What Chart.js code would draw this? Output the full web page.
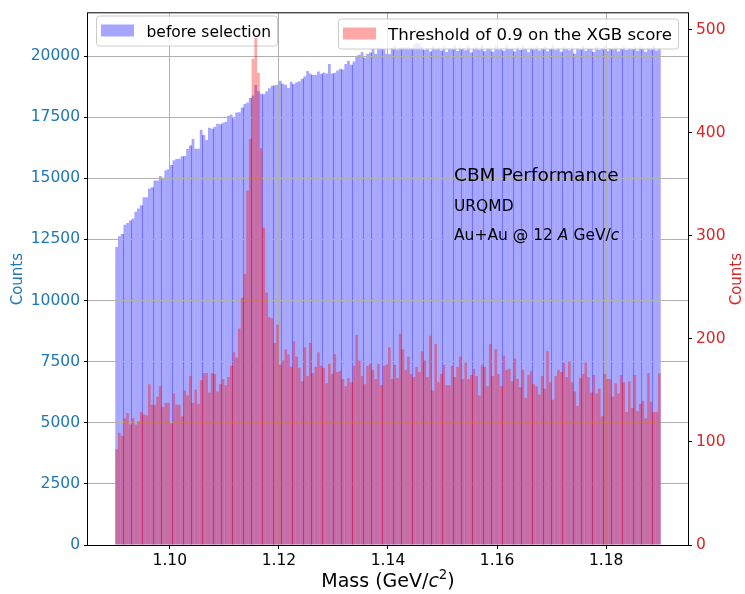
<!DOCTYPE html>
<html>
<head>
<meta charset="utf-8">
<script src="https://cdn.jsdelivr.net/npm/chart.js@4.4.1/dist/chart.umd.min.js"></script>
<style>
  html, body { margin: 0; padding: 0; background: #fff; }
  #massChart { display: block; }
</style>
</head>
<body>
<canvas id="massChart" width="745" height="594"></canvas>
<script>
// Lambda candidate mass histograms, 200 bins between 1.09 and 1.19 GeV/c^2
const massMin = 1.09;
const binWidth = 0.0005;

// counts before the selection (left axis)
const beforeCounts = [
    12191, 12626, 12720, 13102, 13170, 13277, 13360, 13632, 13767, 13902,
    14228, 14228, 14581, 14634, 14907, 14907, 15097, 15028, 15327, 15368,
    15545, 15735, 15789, 15803, 15898, 15912, 16197, 16346, 16605, 16210,
    16210, 16984, 16767, 16564, 17066, 17025, 17107, 17229, 17216, 17270,
    17310, 17555, 17609, 17460, 17691, 17705, 17895, 18044, 18099, 18289,
    18384, 18818, 18560, 18465, 18438, 18560, 18682, 18790, 18804, 18831,
    18994, 18872, 18831, 18696, 18953, 18858, 18926, 18967, 19075, 19170,
    19387, 19292, 19224, 19238, 19374, 19278, 19333, 19292, 19672, 19292,
    19319, 19414, 19482, 19455, 19672, 19808, 19645, 19781, 20012, 20053,
    20162, 19944, 20080, 20148, 20298, 20094, 20353, 20353, 20298, 20094,
    20080, 20353, 20435, 20271, 20353, 20350, 20340, 20360, 20330, 20462,
    20543, 20500, 20380, 20250, 20310, 20190, 20420, 20280, 20350, 20230,
    20400, 20170, 20330, 20290, 20450, 20210, 20360, 20300, 20240, 20410,
    20150, 20320, 20370, 20260, 20430, 20200, 20310, 20350, 20180, 20400,
    20270, 20330, 20220, 20460, 20290, 20340, 20190, 20380, 20250, 20410,
    20300, 20160, 20350, 20280, 20420, 20230, 20330, 20370, 20200, 20310,
    20440, 20260, 20350, 20180, 20390, 20300, 20240, 20360, 20100, 20330,
    20280, 20410, 20220, 20350, 20300, 20170, 20380, 20260, 20320, 20430,
    20210, 20340, 20290, 20370, 20190, 20310, 20400, 20250, 20330, 20280,
    20360, 20220, 20390, 20300, 20170, 20340, 20270, 20410, 20230, 20320
];

// counts after the XGB score cut at 0.9 (right axis)
const selectedCounts = [
    93, 109, 106, 123, 128, 117, 123, 117, 120, 129,
    127, 126, 156, 136, 136, 144, 154, 134, 138, 138,
    118, 147, 136, 136, 125, 150, 145, 164, 138, 151,
    137, 160, 167, 167, 148, 167, 166, 149, 156, 161,
    155, 163, 174, 187, 182, 210, 240, 263, 344, 394,
    472, 492, 458, 385, 308, 245, 221, 220, 196, 214,
    175, 179, 190, 185, 173, 198, 183, 172, 159, 192,
    164, 196, 167, 173, 187, 174, 172, 157, 176, 166,
    185, 168, 169, 161, 154, 162, 158, 174, 204, 179,
    164, 156, 174, 176, 170, 161, 176, 155, 174, 175,
    192, 161, 175, 162, 205, 190, 170, 183, 166, 163,
    173, 168, 188, 179, 163, 203, 150, 195, 158, 166,
    175, 155, 155, 174, 163, 173, 183, 161, 177, 161,
    165, 171, 164, 145, 175, 173, 154, 195, 164, 190,
    166, 154, 184, 170, 171, 159, 181, 161, 153, 170,
    143, 165, 169, 156, 154, 146, 164, 152, 188, 158,
    141, 164, 170, 168, 177, 163, 178, 158, 149, 135,
    162, 166, 177, 163, 148, 165, 147, 152, 125, 166,
    161, 161, 144, 157, 147, 165, 158, 129, 159, 133,
    165, 130, 137, 140, 123, 167, 139, 129, 129, 167
];

const massTicks = [1.10, 1.12, 1.14, 1.16, 1.18];
const countTicks = [0, 2500, 5000, 7500, 10000, 12500, 15000, 17500, 20000];
const selectedTicks = [0, 100, 200, 300, 400, 500];

const binCenters = beforeCounts.map((_, i) => massMin + (i + 0.5) * binWidth);

const FONT = 'DejaVu Sans';
const BLUE_TXT = '#1f77b4';
const RED_TXT = '#d62728';
const BLUE_FILL = 'rgba(0,0,255,0.35)';
const RED_FILL = 'rgba(255,0,0,0.35)';
const GRID = '#b0b0b0';

// same rounding Chart.js uses for 1px lines
const crisp = (p) => Math.round(p - 0.5) + 0.5;

// draw a line of text made of plain / italic / superscript pieces
function drawPieces(ctx, pieces, x, y, size, align) {
    const fontOf = (p) => (p.italic ? 'italic ' : '') + (p.sup ? size * 0.7 : size) + 'px "' + FONT + '"';
    let total = 0;
    const widths = pieces.map((p) => {
        ctx.font = fontOf(p);
        const w = ctx.measureText(p.text).width;
        total += w;
        return w;
    });
    let cx = align === 'center' ? x - total / 2 : x;
    ctx.textAlign = 'left';
    ctx.textBaseline = 'alphabetic';
    pieces.forEach((p, i) => {
        ctx.font = fontOf(p);
        ctx.fillText(p.text, cx, p.sup ? y - size * 0.42 : y);
        cx += widths[i];
    });
}

function roundRect(ctx, x, y, w, h, r) {
    ctx.beginPath();
    ctx.moveTo(x + r, y);
    ctx.lineTo(x + w - r, y);
    ctx.arcTo(x + w, y, x + w, y + r, r);
    ctx.lineTo(x + w, y + h - r);
    ctx.arcTo(x + w, y + h, x + w - r, y + h, r);
    ctx.lineTo(x + r, y + h);
    ctx.arcTo(x, y + h, x, y + h - r, r);
    ctx.lineTo(x, y + r);
    ctx.arcTo(x, y, x + r, y, r);
    ctx.closePath();
}

// legend frame with one coloured patch; anchored by its left or right edge
function drawLegend(ctx, label, color, edge, anchorX, top, size) {
    ctx.save();
    ctx.font = size + 'px "' + FONT + '"';
    const tw = ctx.measureText(label).width;
    const boxW = 5 + 33 + 12.5 + tw + 6;
    const boxH = 30;
    const left = edge === 'left' ? anchorX : anchorX - boxW;
    roundRect(ctx, Math.round(left) + 0.5, top + 0.5, Math.round(boxW), boxH, 3);
    ctx.fillStyle = 'rgba(255,255,255,0.8)';
    ctx.fill();
    ctx.strokeStyle = '#cccccc';
    ctx.lineWidth = 1;
    ctx.stroke();
    ctx.fillStyle = color;
    ctx.fillRect(Math.round(left) + 5, top + 9, 33, 12);
    ctx.fillStyle = '#000';
    ctx.textBaseline = 'alphabetic';
    ctx.textAlign = 'left';
    ctx.fillText(label, left + 5 + 33 + 12.5, top + 21);
    ctx.restore();
}

// grid of the left axes: sits over the blue histogram, under the red one
function drawGrid(chart) {
    const { ctx, chartArea: a, scales } = chart;
    ctx.save();
    ctx.strokeStyle = GRID;
    ctx.lineWidth = 1;
    ctx.beginPath();
    massTicks.forEach((v) => {
        const px = crisp(scales.x.getPixelForValue(v));
        ctx.moveTo(px, a.top);
        ctx.lineTo(px, a.bottom);
    });
    countTicks.forEach((v) => {
        const py = crisp(scales.y.getPixelForValue(v));
        ctx.moveTo(a.left, py);
        ctx.lineTo(a.right, py);
    });
    ctx.stroke();
    ctx.restore();
}

// rasterised histograms show a doubled-up pixel column at some bin edges
function drawSeams(chart, index, color) {
    const ctx = chart.ctx;
    const bars = chart.getDatasetMeta(index).data;
    ctx.save();
    ctx.fillStyle = color;
    for (let i = 1; i < bars.length; i++) {
        const cur = bars[i].getProps(['x', 'y', 'base', 'width'], true);
        const prev = bars[i - 1].getProps(['y'], true);
        const edge = cur.x - cur.width / 2;
        const frac = edge - Math.floor(edge);
        if (frac >= 0.38 && frac < 0.66) {
            const top = Math.max(cur.y, prev.y);
            ctx.fillRect(Math.floor(edge), top, 1, cur.base - top);
        }
    }
    ctx.restore();
}

const overlayPlugin = {
    id: 'overlay',
    afterDatasetDraw(chart, args) {
        if (args.index === 0) {
            drawSeams(chart, 0, BLUE_FILL);
            drawGrid(chart);
            // first legend lies under the selected histogram
            drawLegend(chart.ctx, chart.data.datasets[0].label, BLUE_FILL, 'left', 96, 15.5, 15.5);
        } else {
            drawSeams(chart, 1, RED_FILL);
        }
    },
    afterDraw(chart) {
        const ctx = chart.ctx;
        const a = chart.chartArea;
        ctx.save();

        drawLegend(ctx, chart.data.datasets[1].label, RED_FILL, 'right', 678, 18.5, 16.6);

        // axes frame
        ctx.strokeStyle = '#000';
        ctx.lineWidth = 1;
        ctx.strokeRect(a.left - 0.5, a.top - 0.5, a.right - a.left + 1, a.bottom - a.top + 1);

        // annotation block
        ctx.fillStyle = '#000';
        drawPieces(ctx, [{ text: 'CBM Performance' }], 454, 181, 18.5, 'left');
        drawPieces(ctx, [{ text: 'URQMD' }], 454, 211, 15.5, 'left');
        drawPieces(ctx, [
            { text: 'Au+Au @ 12 ' },
            { text: 'A', italic: true },
            { text: ' GeV/' },
            { text: 'c', italic: true }
        ], 454, 240, 15.5, 'left');

        // x axis title
        drawPieces(ctx, [
            { text: 'Mass (GeV/' },
            { text: 'c', italic: true },
            { text: '2', sup: true },
            { text: ')' }
        ], (a.left + a.right) / 2, 587, 19, 'center');

        // y axis titles
        const midY = (a.top + a.bottom) / 2;
        ctx.font = '15px "' + FONT + '"';
        ctx.textAlign = 'center';
        ctx.textBaseline = 'middle';
        ctx.fillStyle = BLUE_TXT;
        ctx.save();
        ctx.translate(18, midY);
        ctx.rotate(-Math.PI / 2);
        ctx.fillText('Counts', 0, 0);
        ctx.restore();
        ctx.fillStyle = RED_TXT;
        ctx.save();
        ctx.translate(737, midY);
        ctx.rotate(-Math.PI / 2);
        ctx.fillText('Counts', 0, 0);
        ctx.restore();

        ctx.restore();
    }
};

const tickFont = { family: FONT, size: 15.5 };

const massChart = new Chart(document.getElementById('massChart'), {
    type: 'bar',
    data: {
        datasets: [
            {
                label: 'before selection',
                data: binCenters.map((x, i) => ({ x: x, y: beforeCounts[i] })),
                backgroundColor: BLUE_FILL,
                yAxisID: 'y',
                order: 1
            },
            {
                label: 'Threshold of 0.9 on the XGB score',
                data: binCenters.map((x, i) => ({ x: x, y: selectedCounts[i] })),
                backgroundColor: RED_FILL,
                yAxisID: 'y1',
                order: 0
            }
        ]
    },
    options: {
        responsive: false,
        animation: false,
        devicePixelRatio: 1,
        grouped: false,
        barPercentage: 1,
        categoryPercentage: 1,
        borderWidth: 0,
        inflateAmount: 0,
        layout: { padding: { top: 11, left: 0, right: 0, bottom: 0 } },
        plugins: {
            legend: { display: false },
            tooltip: { enabled: false }
        },
        scales: {
            x: {
                type: 'linear',
                min: 1.085,
                max: 1.195,
                offset: false,
                afterBuildTicks: (scale) => { scale.ticks = massTicks.map((v) => ({ value: v })); },
                afterFit: (scale) => { scale.height = 49; },
                grid: { offset: false, drawOnChartArea: false, tickLength: 4, tickColor: '#000' },
                border: { display: false },
                ticks: {
                    color: '#000',
                    font: tickFont,
                    padding: 3,
                    maxRotation: 0,
                    callback: (v) => v.toFixed(2)
                }
            },
            y: {
                position: 'left',
                min: 0,
                max: 21750,
                afterBuildTicks: (scale) => { scale.ticks = countTicks.map((v) => ({ value: v })); },
                afterFit: (scale) => { scale.width = 88; },
                grid: { drawOnChartArea: false, tickLength: 4, tickColor: '#000' },
                border: { display: false },
                ticks: {
                    color: BLUE_TXT,
                    font: tickFont,
                    padding: 4,
                    callback: (v) => String(v)
                }
            },
            y1: {
                position: 'right',
                min: 0,
                max: 516,
                afterBuildTicks: (scale) => { scale.ticks = selectedTicks.map((v) => ({ value: v })); },
                afterFit: (scale) => { scale.width = 57; },
                grid: { drawOnChartArea: false, tickLength: 4, tickColor: '#000' },
                border: { display: false },
                ticks: {
                    color: RED_TXT,
                    font: tickFont,
                    padding: 4,
                    callback: (v) => String(v)
                }
            }
        }
    },
    plugins: [overlayPlugin]
});
</script>
</body>
</html>
